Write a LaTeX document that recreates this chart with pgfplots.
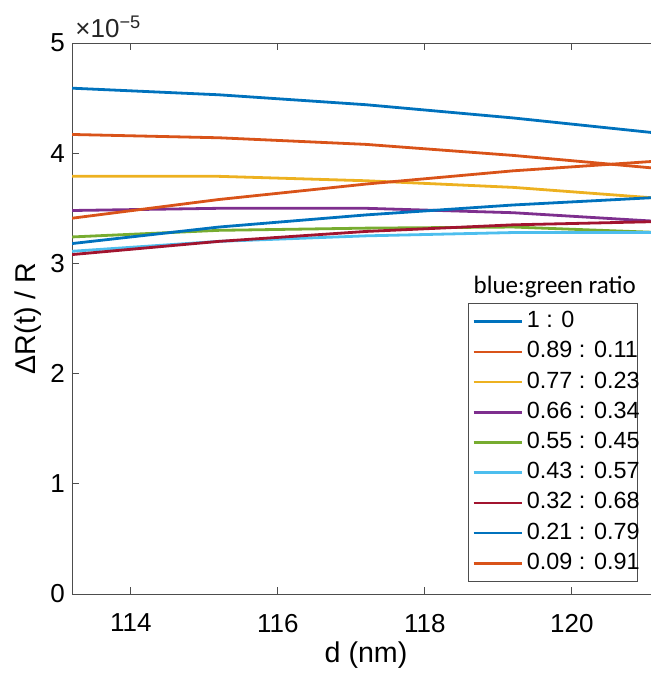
\documentclass[border=0pt]{standalone}
\usepackage{pgfplots}
\pgfplotsset{compat=1.18}
\usepackage{fontspec}
\setmainfont{Liberation Sans}
\newfontfamily\calibri{Carlito}
\definecolor{c1}{HTML}{0072BD}
\definecolor{c2}{HTML}{D95319}
\definecolor{c3}{HTML}{EDB120}
\definecolor{c4}{HTML}{7E2F8E}
\definecolor{c5}{HTML}{77AC30}
\definecolor{c6}{HTML}{4DBEEE}
\definecolor{c7}{HTML}{A2142F}
\definecolor{axisgray}{HTML}{4D4D4D}
\newcommand{\legtxt}[1]{#1\kern-3pt\relax}
\begin{document}
\begin{tikzpicture}
\begin{axis}[
  scale only axis, width=294pt, height=275.5pt,
  clip mode=individual,
  xmin=113.2, xmax=121.2, ymin=0, ymax=5e-5,
  xtick={114,116,118,120},
  ytick={0,1e-5,2e-5,3e-5,4e-5,5e-5},
  yticklabels={0,1,2,3,4,5},
  scaled y ticks=false,
  tick align=inside, major tick length=3.5pt,
  axis line style={color=axisgray, line width=0.5pt},
  tick style={color=axisgray, line width=0.5pt},
  ticklabel style={font=\fontsize{13}{15}\selectfont},
  xticklabel style={yshift=-6.5pt},
  /pgf/number format/assume math mode=true,
  xlabel={d (nm)}, ylabel={ΔR(t) / R},
  label style={font=\fontsize{14.3}{16}\selectfont},
  xlabel style={at={(axis description cs:0.5,-0.1107)}, anchor=center},
  ylabel style={at={(axis description cs:-0.0748,0.5)}, anchor=center, rotate=0},
  every axis plot/.append style={line width=1.4pt},
  legend cell align=left,
  legend image code/.code={\draw[#1, line width=1.3pt] (0pt,0pt) -- (24pt,0pt);},
  legend style={at={(axis description cs:0.673,0.0223)}, anchor=south west,
    draw=axisgray, line width=0.5pt, fill=white,
    font=\fontsize{11.7}{13}\selectfont,
    inner xsep=2pt, inner ysep=3pt, row sep=3.1pt, column sep=2pt,
    nodes={inner sep=0pt, outer sep=0pt, text height=9pt, text depth=3pt}},
]
\addplot[c1] coordinates {(113.2,4.59e-5) (115.2,4.53e-5) (117.2,4.44e-5) (119.2,4.32e-5) (121.2,4.18e-5)};
\addlegendentry{\legtxt{1 : 0}}
\addplot[c2] coordinates {(113.2,4.17e-5) (115.2,4.14e-5) (117.2,4.08e-5) (119.2,3.98e-5) (121.2,3.86e-5)};
\addlegendentry{\legtxt{0.89 : 0.11}}
\addplot[c3] coordinates {(113.2,3.79e-5) (115.2,3.79e-5) (117.2,3.75e-5) (119.2,3.69e-5) (121.2,3.59e-5)};
\addlegendentry{\legtxt{0.77 : 0.23}}
\addplot[c4] coordinates {(113.2,3.48e-5) (115.2,3.50e-5) (117.2,3.50e-5) (119.2,3.46e-5) (121.2,3.38e-5)};
\addlegendentry{\legtxt{0.66 : 0.34}}
\addplot[c5] coordinates {(113.2,3.24e-5) (115.2,3.30e-5) (117.2,3.32e-5) (119.2,3.33e-5) (121.2,3.28e-5)};
\addlegendentry{\legtxt{0.55 : 0.45}}
\addplot[c6] coordinates {(113.2,3.11e-5) (115.2,3.20e-5) (117.2,3.25e-5) (119.2,3.28e-5) (121.2,3.28e-5)};
\addlegendentry{\legtxt{0.43 : 0.57}}
\addplot[c7] coordinates {(113.2,3.08e-5) (115.2,3.20e-5) (117.2,3.29e-5) (119.2,3.35e-5) (121.2,3.38e-5)};
\addlegendentry{\legtxt{0.32 : 0.68}}
\addplot[c1] coordinates {(113.2,3.18e-5) (115.2,3.33e-5) (117.2,3.44e-5) (119.2,3.53e-5) (121.2,3.60e-5)};
\addlegendentry{\legtxt{0.21 : 0.79}}
\addplot[c2] coordinates {(113.2,3.41e-5) (115.2,3.58e-5) (117.2,3.72e-5) (119.2,3.84e-5) (121.2,3.93e-5)};
\addlegendentry{\legtxt{0.09 : 0.91}}
\node[anchor=base west, inner sep=0pt, font=\fontsize{13}{15}\selectfont, color=black!85]
  at (rel axis cs:0,1) [xshift=1.5pt, yshift=3pt] {×10\textsuperscript{−5}};
\node[anchor=center, inner sep=0pt, font=\calibri\fontsize{12.5}{14}\selectfont]
  at (axis description cs:0.821,0.5577) {blue:green ratio};
\end{axis}
\pgfresetboundingbox
\useasboundingbox (-36pt,-43.5pt) rectangle (289.5pt,297pt);
\end{tikzpicture}
\end{document}
